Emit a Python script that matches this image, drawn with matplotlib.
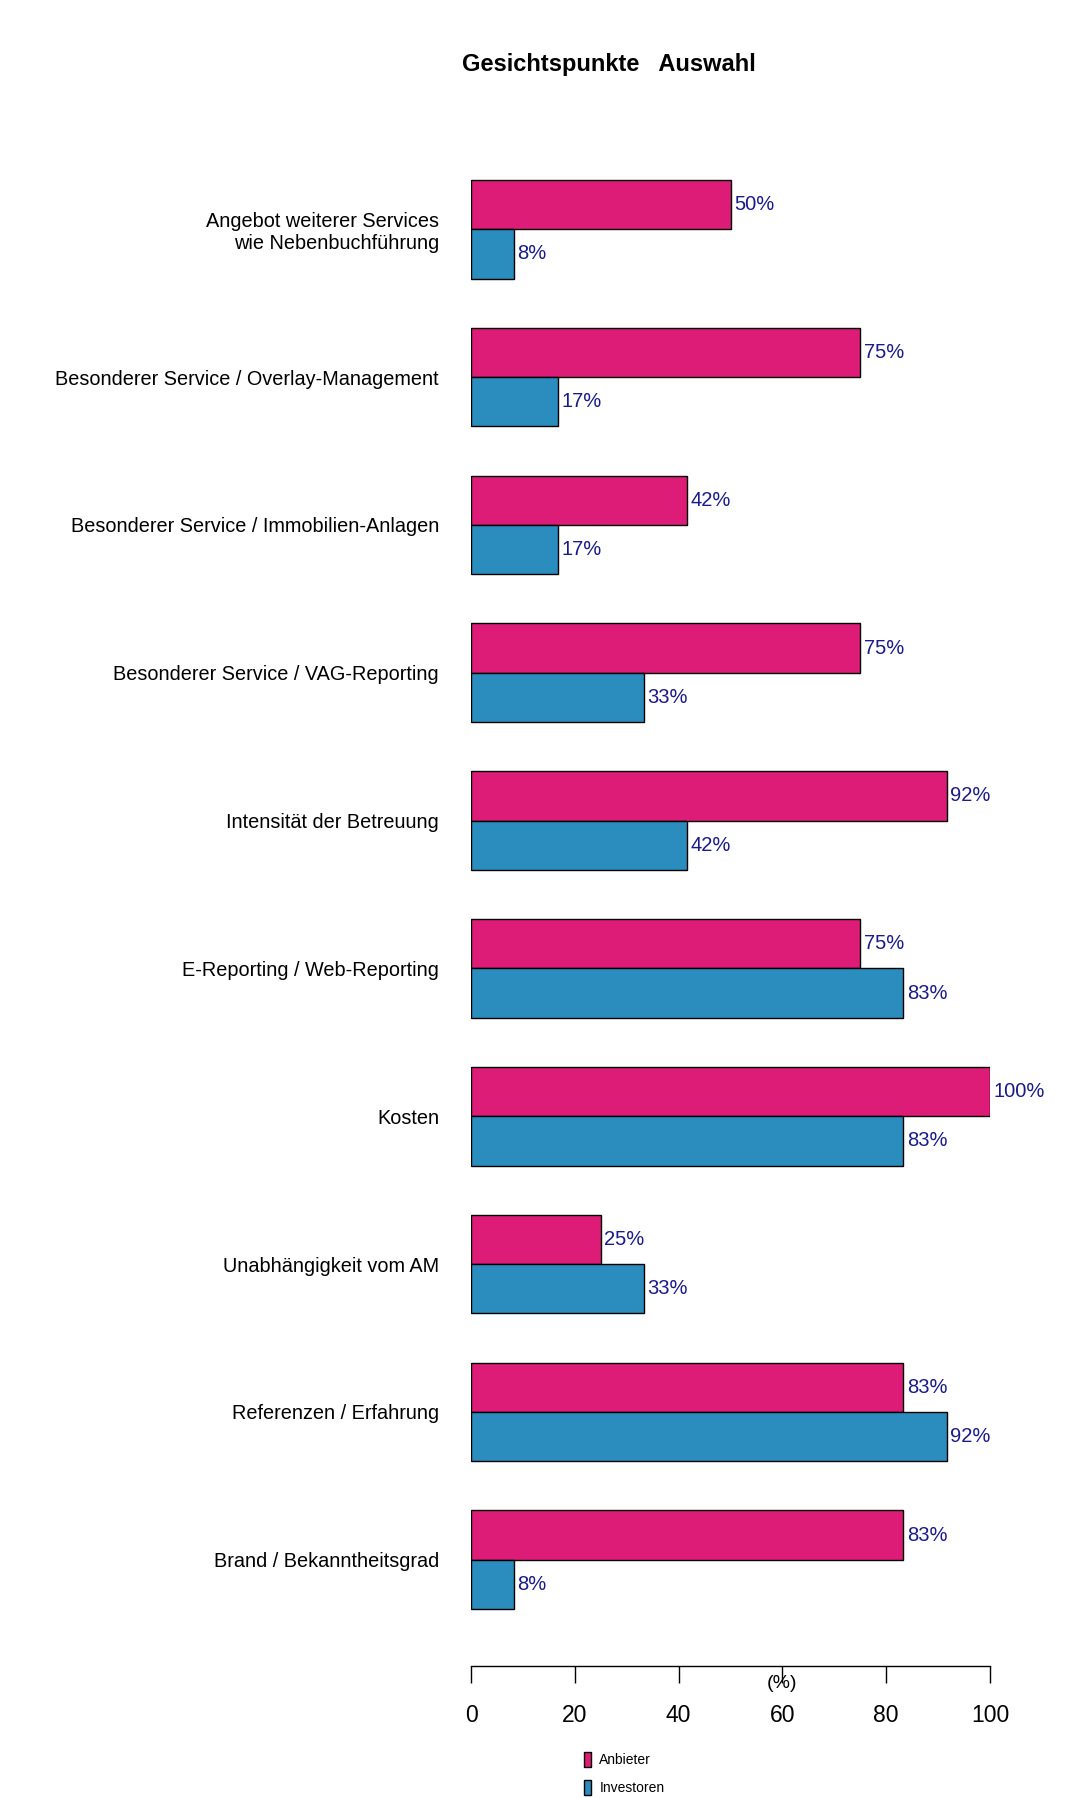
import matplotlib
matplotlib.use('Agg')
import matplotlib.pyplot as plt
import numpy as np

plt.rcParams['font.family'] = ['Liberation Sans', 'DejaVu Sans']

# data
categories = ['Angebot weiterer Services\nwie Nebenbuchführung',
              'Besonderer Service / Overlay-Management',
              'Besonderer Service / Immobilien-Anlagen',
              'Besonderer Service / VAG-Reporting',
              'Intensität der Betreuung',
              'E-Reporting / Web-Reporting',
              'Kosten',
              'Unabhängigkeit vom AM',
              'Referenzen / Erfahrung',
              'Brand / Bekanntheitsgrad']
anbieter = [50, 75, 41.7, 75, 91.7, 75, 100, 25, 83.3, 83.3]
investoren = [8.3, 16.7, 16.7, 33.3, 41.7, 83.3, 83.3, 33.3, 91.7, 8.3]
series_names = ['Anbieter', 'Investoren']
colors = ['#DD1C77', '#2B8CBE']
xticks = [0, 20, 40, 60, 80, 100]

W, H = 1079, 1798
fig = plt.figure(figsize=(W / 100, H / 100), dpi=100)
fig.patch.set_facecolor('white')

# axes placed in pixel terms
left, right = 471, 990
top, bottom = 123, 1666
ax = fig.add_axes([left / W, 1 - bottom / H, (right - left) / W, (bottom - top) / H])

n = len(categories)
pos = np.arange(n) * 3
handles = []
for k, vals in enumerate([anbieter, investoren]):
    y = pos + 0.5 + k
    b = ax.barh(y, vals, height=1.0, color=colors[k], edgecolor='black',
                linewidth=1.0, label=series_names[k])
    handles.append(b)
    for yy, v in zip(y, vals):
        ax.annotate(f'{v:.0f}%', (v, yy), xytext=(2.5, 0), textcoords='offset points',
                    ha='left', va='center', color='#1a1a8a', fontsize=14.5)

ax.set_xlim(0, 100)
unit_px = (1609 - 180) / 29
margin = (bottom - 1609) / unit_px
ax.set_ylim(29 + margin, -margin)

ax.set_yticks(pos + 1)
ax.set_yticklabels(categories, fontsize=14.3, ha='right', multialignment='right')
ax.tick_params(axis='y', length=0, pad=23)

ax.set_xticks(xticks)
ax.tick_params(axis='x', direction='out', length=12, width=1, labelsize=16.5, pad=15)
for s in ['top', 'right', 'left']:
    ax.spines[s].set_visible(False)
ax.spines['bottom'].set_linewidth(1)

ax.set_xlabel('(%)', fontsize=14, va='center')
ax.xaxis.set_label_coords(0.6, -17 / (bottom - top))

fig.text(609 / W, 1 - 65 / H, 'Gesichtspunkte   Auswahl', ha='center', va='center',
         fontsize=17, fontweight='bold')

fig.legend(handles=handles, labels=series_names, loc='upper left',
           bbox_to_anchor=(584 / W, 1 - 1752 / H), frameon=False, fontsize=10,
           handlelength=0.5, handleheight=1.3, handletextpad=0.6, labelspacing=0.9,
           borderaxespad=0, borderpad=0)

fig.savefig('out.png', dpi=100, facecolor='white')
